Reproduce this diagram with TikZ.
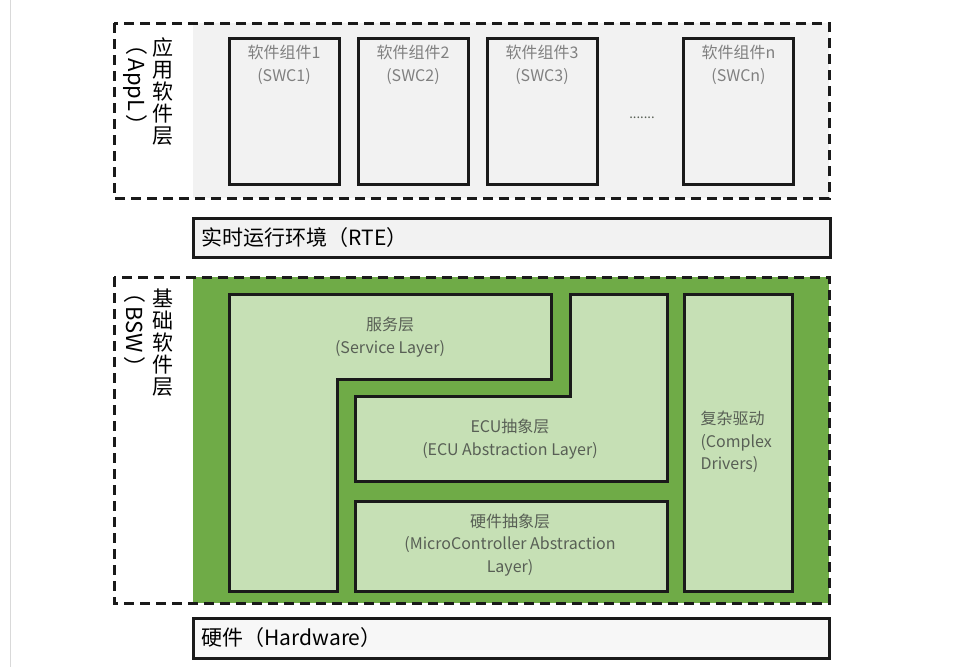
\documentclass[tikz,border=0pt]{standalone}
\usepackage{fontspec}
\setmainfont{Noto Sans CJK SC}
\definecolor{appgray}{HTML}{F2F2F2}
\definecolor{bswgreen}{HTML}{6FAB47}
\definecolor{bswlight}{HTML}{C6E0B5}
\definecolor{txtgray}{HTML}{808080}
\definecolor{txtdark}{HTML}{585F55}
\definecolor{edge}{HTML}{1A1A1A}
\begin{document}
\begin{tikzpicture}[x=1pt,y=-1pt,
  dashbox/.style={draw=edge,line width=3pt,dash pattern=on 10pt off 6pt},
  solidbox/.style={draw=edge,line width=3pt},
  swcbox/.style={solidbox,fill=appgray,minimum width=110pt,minimum height=146pt,inner sep=0pt},
  swctext/.style={text=txtgray,align=center,font=\fontsize{16}{23}\selectfont,anchor=north},
  bswtext/.style={text=txtdark,align=center,font=\fontsize{16}{22.5}\selectfont},
  bigtext/.style={text=black,anchor=west,font=\fontsize{21}{24}\selectfont},
  vlabel/.style={text=black,align=center,font=\fontsize{21}{22}\selectfont},
  vrot/.style={text=black,rotate=-90,font=\fontsize{22}{24}\selectfont}
]
\useasboundingbox (0,0) rectangle (965,667);
\fill[white] (0,0) rectangle (965,667);
\draw[line width=1pt,draw=black!15] (10,0) -- (10,667);

% Application layer
\fill[appgray] (193,23) rectangle (829,198);
\draw[dashbox] (114,23) rectangle (829,198);
\node[vlabel] (appcn) at (163,92) {应\\用\\软\\件\\层};
\node[vrot] (appen) at (135,85) {（\,AppL\,）};

\node[swcbox] (swc1) at (284,111) {};
\node[swcbox] (swc2) at (413,111) {};
\node[swcbox] (swc3) at (542,111) {};
\node[swcbox] (swcn) at (738.5,111) {};
\node[swctext] (t1) at (284,42) {软件组件1\\(SWC1)};
\node[swctext] (t2) at (413,42) {软件组件2\\(SWC2)};
\node[swctext] (t3) at (542,42) {软件组件3\\(SWC3)};
\node[swctext] (tn) at (738.5,42) {软件组件n\\(SWCn)};
\node[text=txtdark,font=\fontsize{13}{13}\selectfont] (dots) at (642,118) {.......};

% RTE
\draw[solidbox,fill=appgray] (193,218) rectangle (830,257);
\node[bigtext] (rte) at (198,238) {实时运行环境（RTE）};

% BSW
\fill[bswgreen] (193,277) rectangle (829,603);
\draw[dashbox] (114,277) rectangle (829,603);
\node[vlabel] (bswcn) at (163,343) {基\\础\\软\\件\\层};
\node[vrot] (bswen) at (135,330) {（\,BSW\,）};

\draw[solidbox,fill=bswlight] (229,294) -- (551,294) -- (551,379) -- (337,379) -- (337,591) -- (229,591) -- cycle;
\draw[solidbox,fill=bswlight] (570,294) -- (667,294) -- (667,481) -- (355,481) -- (355,396) -- (570,396) -- cycle;
\draw[solidbox,fill=bswlight] (355,501) rectangle (667,591);
\draw[solidbox,fill=bswlight] (684,294) rectangle (792,591);

\node[bswtext] (svc) at (390,337) {服务层\\(Service Layer)};
\node[bswtext] (ecu) at (510,439) {ECU抽象层\\(ECU Abstraction Layer)};
\node[bswtext] (mcal) at (510,545) {硬件抽象层\\(MicroController Abstraction\\Layer)};
\node[bswtext,align=left,anchor=north west] (cdd) at (697,408) {复杂驱动\\(Complex\\Drivers)};

% Hardware
\draw[solidbox,fill=black!3] (193,618) rectangle (829,658);
\node[bigtext] (hw) at (198,638) {硬件（Hardware）};
\end{tikzpicture}
\end{document}
